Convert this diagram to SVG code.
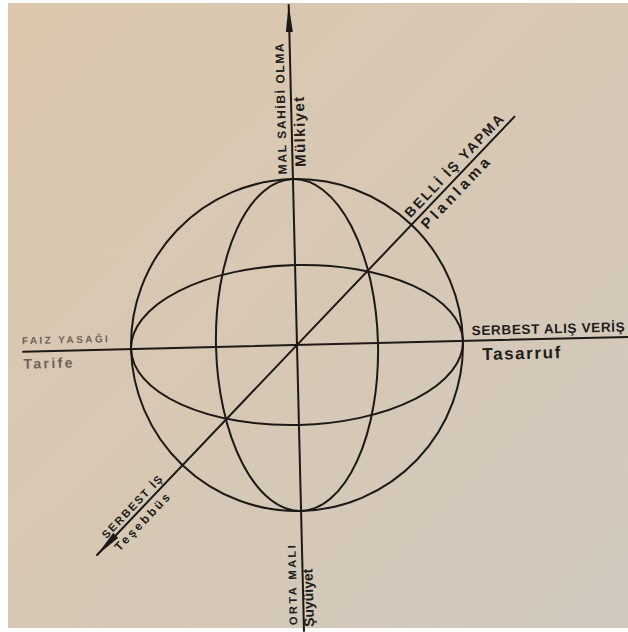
<svg xmlns="http://www.w3.org/2000/svg" width="628" height="632" viewBox="0 0 628 632">
  <defs>
    <linearGradient id="paper" x1="0" y1="0" x2="1" y2="1">
      <stop offset="0" stop-color="#dcc7ae"/>
      <stop offset="0.5" stop-color="#d7c8b5"/>
      <stop offset="1" stop-color="#d1c9be"/>
    </linearGradient>
    <marker id="arrow" viewBox="0 0 28 8" markerWidth="28" markerHeight="8" refX="27" refY="4" orient="auto" markerUnits="userSpaceOnUse">
      <path d="M0,0.5 L28,4 L0,7.5 Z" fill="#1c1917"/>
    </marker>
    <style>
      .ink { fill: none; stroke: #1c1917; stroke-width: 2; stroke-linecap: round; }
      .caps { font-family: "Liberation Sans", Arial, sans-serif; font-weight: 700; fill: #221d1a; }
      .low { font-family: "Liberation Sans", Arial, sans-serif; font-weight: 700; fill: #221d1a; }
      .faint { fill: #6d6259; }
    </style>
  </defs>

  <rect x="0" y="0" width="628" height="632" fill="#ffffff"/>
  <rect x="8" y="3" width="620" height="625" fill="url(#paper)"/>

  <g transform="translate(297 345) rotate(-1.4)">
    <g id="sphere">
      <circle class="ink" cx="0" cy="0" r="166"/>
      <ellipse class="ink" cx="0" cy="0" rx="81" ry="166"/>
      <ellipse class="ink" cx="0" cy="0" rx="166" ry="80"/>
    </g>

    <g id="connectors">
      <line class="ink" x1="0" y1="286" x2="0" y2="-340" marker-end="url(#arrow)"/>
      <line class="ink" x1="-274" y1="0" x2="332" y2="0"/>
      <line class="ink" x1="223" y1="-223" x2="-205" y2="205" marker-end="url(#arrow)"/>
    </g>

    <g id="node-top">
      <text class="caps" font-size="12" transform="rotate(-90)" x="171" y="-6" textLength="131" lengthAdjust="spacing">MAL SAHİBİ OLMA</text>
      <text class="low" font-size="15" transform="rotate(-90)" x="178" y="13" textLength="70" lengthAdjust="spacing">Mülkiyet</text>
    </g>

    <g id="node-bottom">
      <text class="caps" font-size="11" transform="rotate(-90)" x="-280" y="-6.5" textLength="80" lengthAdjust="spacing">ORTA MALI</text>
      <text class="low" font-size="14" transform="rotate(-90)" x="-282" y="10" textLength="58" lengthAdjust="spacing">Şuyüiyet</text>
    </g>

    <g id="node-right">
      <text class="caps" font-size="13.5" x="175" y="-5.5" textLength="153" lengthAdjust="spacing">SERBEST ALIŞ VERİŞ</text>
      <text class="low" font-size="17" x="185" y="19.5" textLength="78" lengthAdjust="spacing">Tasarruf</text>
    </g>

    <g id="node-left">
      <text class="caps faint" font-size="10" x="-275" y="-7.5" textLength="86" lengthAdjust="spacing">FAIZ YASAĞI</text>
      <text class="low faint" font-size="14" font-weight="400" x="-274" y="17" textLength="49" lengthAdjust="spacing">Tarife</text>
    </g>

    <g id="node-upper-right">
      <text class="caps" font-size="14" transform="rotate(-45)" x="170" y="-5" textLength="136" lengthAdjust="spacing">BELLİ İŞ YAPMA</text>
      <text class="low" font-size="15" transform="rotate(-45)" x="173" y="15" textLength="92" lengthAdjust="spacing">Planlama</text>
    </g>

    <g id="node-lower-left">
      <text class="caps" font-size="11" transform="rotate(-45)" x="-272" y="-4" textLength="82" lengthAdjust="spacing">SERBEST İŞ</text>
      <text class="low" font-size="12" transform="rotate(-45)" x="-272" y="14" textLength="74" lengthAdjust="spacing">Teşebbüs</text>
    </g>
  </g>
</svg>
